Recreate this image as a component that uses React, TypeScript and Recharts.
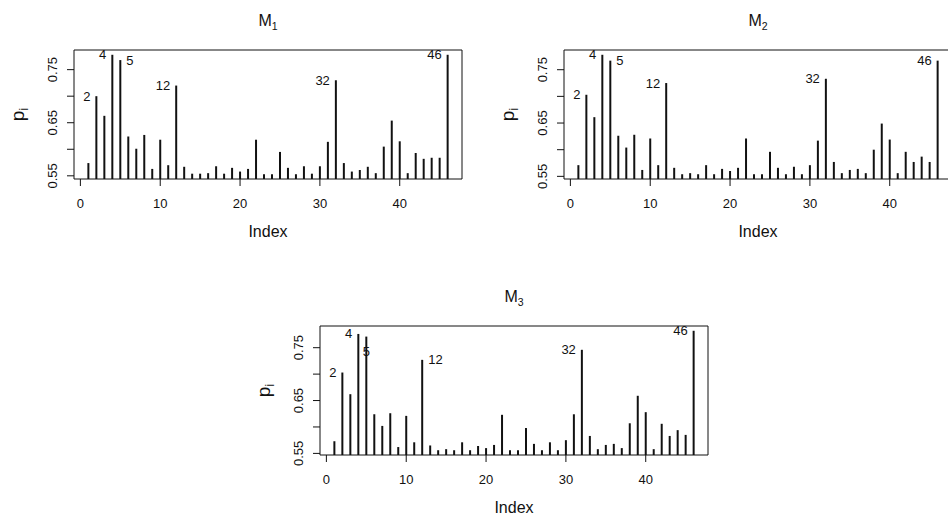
import React from 'react';
import { Bar, ComposedChart, LabelList, ReferenceArea, XAxis, YAxis } from 'recharts';

// Three R-style "type = h" panels of p_i by index for models M1, M2, M3.

const m1Values = [
  0.574, 0.7, 0.663, 0.778, 0.768, 0.624, 0.601, 0.627, 0.563, 0.618,
  0.57, 0.72, 0.567, 0.554, 0.554, 0.555, 0.568, 0.554, 0.565, 0.558,
  0.563, 0.618, 0.553, 0.553, 0.595, 0.565, 0.553, 0.568, 0.554, 0.568,
  0.614, 0.73, 0.574, 0.558, 0.561, 0.567, 0.555, 0.605, 0.654, 0.615,
  0.555, 0.593, 0.582, 0.584, 0.584, 0.778,
];

const m2Values = [
  0.571, 0.703, 0.661, 0.778, 0.767, 0.626, 0.604, 0.628, 0.562, 0.621,
  0.571, 0.725, 0.566, 0.554, 0.556, 0.554, 0.571, 0.554, 0.564, 0.56,
  0.566, 0.621, 0.554, 0.554, 0.596, 0.566, 0.554, 0.568, 0.554, 0.571,
  0.617, 0.733, 0.577, 0.556, 0.562, 0.564, 0.556, 0.6, 0.649, 0.619,
  0.556, 0.596, 0.577, 0.587, 0.577, 0.767,
];

const m3Values = [
  0.573, 0.703, 0.662, 0.776, 0.771, 0.624, 0.602, 0.626, 0.562, 0.621,
  0.571, 0.727, 0.565, 0.556, 0.558, 0.556, 0.571, 0.556, 0.564, 0.56,
  0.566, 0.623, 0.556, 0.556, 0.598, 0.568, 0.556, 0.571, 0.556, 0.575,
  0.624, 0.746, 0.583, 0.558, 0.566, 0.568, 0.56, 0.607, 0.659, 0.628,
  0.558, 0.606, 0.583, 0.594, 0.585, 0.782,
];

// labelled points: [index, where the text sits relative to the top of the line]
type Pos = 'left' | 'right' | 'below';
const m1Labels: [number, Pos][] = [[2, 'left'], [4, 'left'], [5, 'right'], [12, 'left'], [32, 'left'], [46, 'left']];
const m2Labels: [number, Pos][] = [[2, 'left'], [4, 'left'], [5, 'right'], [12, 'left'], [32, 'left'], [46, 'left']];
const m3Labels: [number, Pos][] = [[2, 'left'], [4, 'left'], [5, 'below'], [12, 'right'], [32, 'left'], [46, 'left']];

const xTicks = [0, 10, 20, 30, 40];
const yTicks = [0.55, 0.6, 0.65, 0.7, 0.75];
const yTickLabels = ['0.55', '', '0.65', '', '0.75'];

const FONT = '"Liberation Sans", Arial, sans-serif';
const INK = '#111';

const W = 474;
const H = 260;
const MARGIN = { top: 50, right: 12, bottom: 51, left: 44 };

function Panel({
  values,
  labels,
  sub,
  left,
  top,
}: {
  values: number[];
  labels: [number, Pos][];
  sub: string;
  left: number;
  top: number;
}) {
  const data = values.map((v, i) => ({ index: i + 1, value: v }));
  const n = values.length;
  const xPad = (n - 1) * 0.04;
  const xMin = 1 - xPad;
  const xMax = n + xPad;
  const lo = Math.min(...values);
  const hi = Math.max(...values);
  const yMin = lo - (hi - lo) * 0.04;
  const yMax = hi + (hi - lo) * 0.04;

  const renderLabel = (props: any) => {
    const { x, y, width, index } = props;
    const hit = labels.find(([k]) => k === index + 1);
    if (!hit) return null;
    const cx = Number(x) + Number(width) / 2;
    const cy = Number(y);
    const pos = hit[1];
    const tx = pos === 'left' ? cx - 6 : pos === 'right' ? cx + 6 : cx;
    const ty = pos === 'below' ? cy + 15 : cy;
    const anchor = pos === 'left' ? 'end' : pos === 'right' ? 'start' : 'middle';
    return (
      <text
        key={index}
        x={tx}
        y={ty}
        dy={4.5}
        textAnchor={anchor}
        fontSize={13}
        fontFamily={FONT}
        fill={INK}
      >
        {index + 1}
      </text>
    );
  };

  return (
    <div style={{ position: 'absolute', left, top, width: W, height: H }}>
      <div
        style={{
          position: 'absolute',
          left: MARGIN.left + 30,
          width: W - MARGIN.left - 30 - MARGIN.right,
          top: 11,
          textAlign: 'center',
          fontFamily: FONT,
          fontSize: 16,
          lineHeight: '20px',
          color: INK,
        }}
      >
        M<sub style={{ fontSize: 10.5 }}>{sub}</sub>
      </div>
      <ComposedChart width={W} height={H} data={data} margin={MARGIN}>
        <XAxis
          type="number"
          dataKey="index"
          domain={[xMin, xMax]}
          allowDataOverflow
          ticks={xTicks}
          height={30}
          axisLine={false}
          tickSize={7}
          tickLine={{ stroke: INK }}
          tick={(p: any) => (
            <text
              x={p.x}
              y={p.y + 20}
              textAnchor="middle"
              fontSize={13}
              fontFamily={FONT}
              fill={INK}
            >
              {p.payload.value}
            </text>
          )}
          label={({ viewBox }: any) => (
            <text
              x={viewBox.x + viewBox.width / 2}
              y={viewBox.y + 58}
              textAnchor="middle"
              fontSize={16}
              fontFamily={FONT}
              fill={INK}
            >
              Index
            </text>
          )}
        />
        <YAxis
          type="number"
          domain={[yMin, yMax]}
          allowDataOverflow
          ticks={yTicks}
          width={30}
          axisLine={false}
          tickSize={7}
          tickLine={{ stroke: INK }}
          tick={(p: any) => {
            const k = yTicks.indexOf(p.payload.value);
            return (
              <text
                transform={`translate(${p.x - 8.5},${p.y}) rotate(-90)`}
                textAnchor="middle"
                fontSize={13}
                fontFamily={FONT}
                fill={INK}
              >
                {yTickLabels[k]}
              </text>
            );
          }}
          label={({ viewBox }: any) => (
            <text
              transform={`translate(${viewBox.x + viewBox.width - 50},${viewBox.y + viewBox.height / 2}) rotate(-90)`}
              textAnchor="middle"
              fontSize={19}
              fontFamily={FONT}
              fill={INK}
            >
              p<tspan fontSize={12} dy={4}>i</tspan>
            </text>
          )}
        />
        <Bar dataKey="value" fill={INK} barSize={2} isAnimationActive={false}>
          <LabelList dataKey="value" content={renderLabel} />
        </Bar>
        <ReferenceArea
          x1={xMin}
          x2={xMax}
          y1={yMin}
          y2={yMax}
          fill="none"
          stroke={INK}
          strokeWidth={1}
          ifOverflow="visible"
        />
      </ComposedChart>
    </div>
  );
}

export default function App() {
  return (
    <div
      style={{
        position: 'absolute',
        left: 0,
        top: 0,
        width: 948,
        height: 521,
        overflow: 'hidden',
        background: '#fff',
      }}
    >
      <Panel values={m1Values} labels={m1Labels} sub="1" left={0} top={0} />
      <Panel values={m2Values} labels={m2Labels} sub="2" left={490} top={0} />
      <Panel values={m3Values} labels={m3Labels} sub="3" left={246} top={276} />
    </div>
  );
}
